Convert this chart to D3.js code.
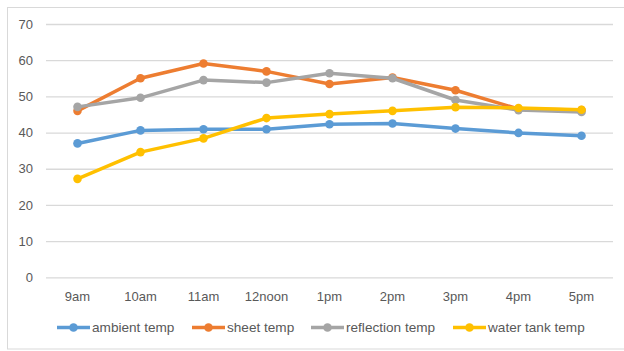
<!DOCTYPE html>
<html>
<head>
<meta charset="utf-8">
<script src="https://cdn.jsdelivr.net/npm/d3@7"></script>
<style>
  html, body { margin: 0; padding: 0; background: #fff; }
  svg { display: block; font-family: "Liberation Sans", Arial, sans-serif; }
</style>
</head>
<body>
<svg id="chart" width="624" height="351"></svg>
<script>
// Hourly readings, 9am to 5pm
const hours = ["9am", "10am", "11am", "12noon", "1pm", "2pm", "3pm", "4pm", "5pm"];
const ambientTemp    = [37.0, 40.6, 40.9, 40.9, 42.3, 42.5, 41.1, 39.9, 39.1];
const sheetTemp      = [46.0, 55.0, 59.1, 56.9, 53.4, 55.2, 51.7, 46.5, 46.2];
const reflectionTemp = [47.1, 49.6, 54.5, 53.8, 56.4, 55.0, 49.0, 46.2, 45.7];
const waterTankTemp  = [27.2, 34.6, 38.4, 44.0, 45.1, 46.0, 47.0, 46.8, 46.3];
const yTicks = [0, 10, 20, 30, 40, 50, 60, 70];

const series = [
  { name: "ambient temp",    values: ambientTemp,    color: "#5B9BD5" },
  { name: "sheet temp",      values: sheetTemp,      color: "#ED7D31" },
  { name: "reflection temp", values: reflectionTemp, color: "#A5A5A5" },
  { name: "water tank temp", values: waterTankTemp,  color: "#FFC000" }
];

const svg = d3.select("#chart");
const textColor = "#595959";
const gridColor = "#d9d9d9";

// chart frame
svg.append("rect")
  .attr("x", 7.5).attr("y", 7.5)
  .attr("width", 640).attr("height", 341.5)
  .attr("fill", "#fff").attr("stroke", gridColor).attr("stroke-width", 1);

const plot = { left: 46, right: 613, top: 24, bottom: 277.3 };

const x = d3.scaleBand().domain(hours).range([plot.left, plot.right]);
const y = d3.scaleLinear().domain([0, 70]).range([plot.bottom, plot.top]);

// horizontal gridlines + value labels
const yAxis = svg.append("g")
  .attr("transform", `translate(${plot.left},0)`)
  .call(d3.axisLeft(y).tickValues(yTicks).tickSize(-(plot.right - plot.left)).tickPadding(13));
yAxis.select(".domain").remove();
yAxis.selectAll(".tick line").attr("stroke", gridColor).attr("stroke-width", 1.3);
yAxis.selectAll(".tick text")
  .attr("fill", textColor).attr("font-size", 13)
  .attr("font-family", "Liberation Sans, Arial, sans-serif");

// category labels
const xAxis = svg.append("g")
  .attr("transform", `translate(0,${plot.bottom})`)
  .call(d3.axisBottom(x).tickSize(0).tickPadding(14));
xAxis.select(".domain").remove();
xAxis.selectAll(".tick text")
  .attr("fill", textColor).attr("font-size", 13)
  .attr("font-family", "Liberation Sans, Arial, sans-serif");

const cx = d => x(d) + x.bandwidth() / 2;
const line = d3.line().x((d, i) => cx(hours[i])).y(d => y(d));

series.forEach(s => {
  const g = svg.append("g");
  g.append("path")
    .datum(s.values)
    .attr("d", line)
    .attr("fill", "none")
    .attr("stroke", s.color)
    .attr("stroke-width", 3.5)
    .attr("stroke-linejoin", "round")
    .attr("stroke-linecap", "round");
  g.selectAll("circle")
    .data(s.values)
    .join("circle")
    .attr("cx", (d, i) => cx(hours[i]))
    .attr("cy", d => y(d))
    .attr("r", 4.3)
    .attr("fill", s.color);
});

// legend
const legendY = 327.5;
const legendX = [57, 192, 311, 453];
series.forEach((s, i) => {
  const g = svg.append("g").attr("transform", `translate(${legendX[i]},${legendY})`);
  g.append("line")
    .attr("x1", 0).attr("x2", 33).attr("y1", 0).attr("y2", 0)
    .attr("stroke", s.color).attr("stroke-width", 3.5);
  g.append("circle").attr("cx", 16.5).attr("cy", 0).attr("r", 4.3).attr("fill", s.color);
  g.append("text")
    .attr("x", 35).attr("y", 0).attr("dy", "0.35em")
    .attr("fill", textColor).attr("font-size", 13.6)
    .text(s.name);
});
</script>
</body>
</html>
